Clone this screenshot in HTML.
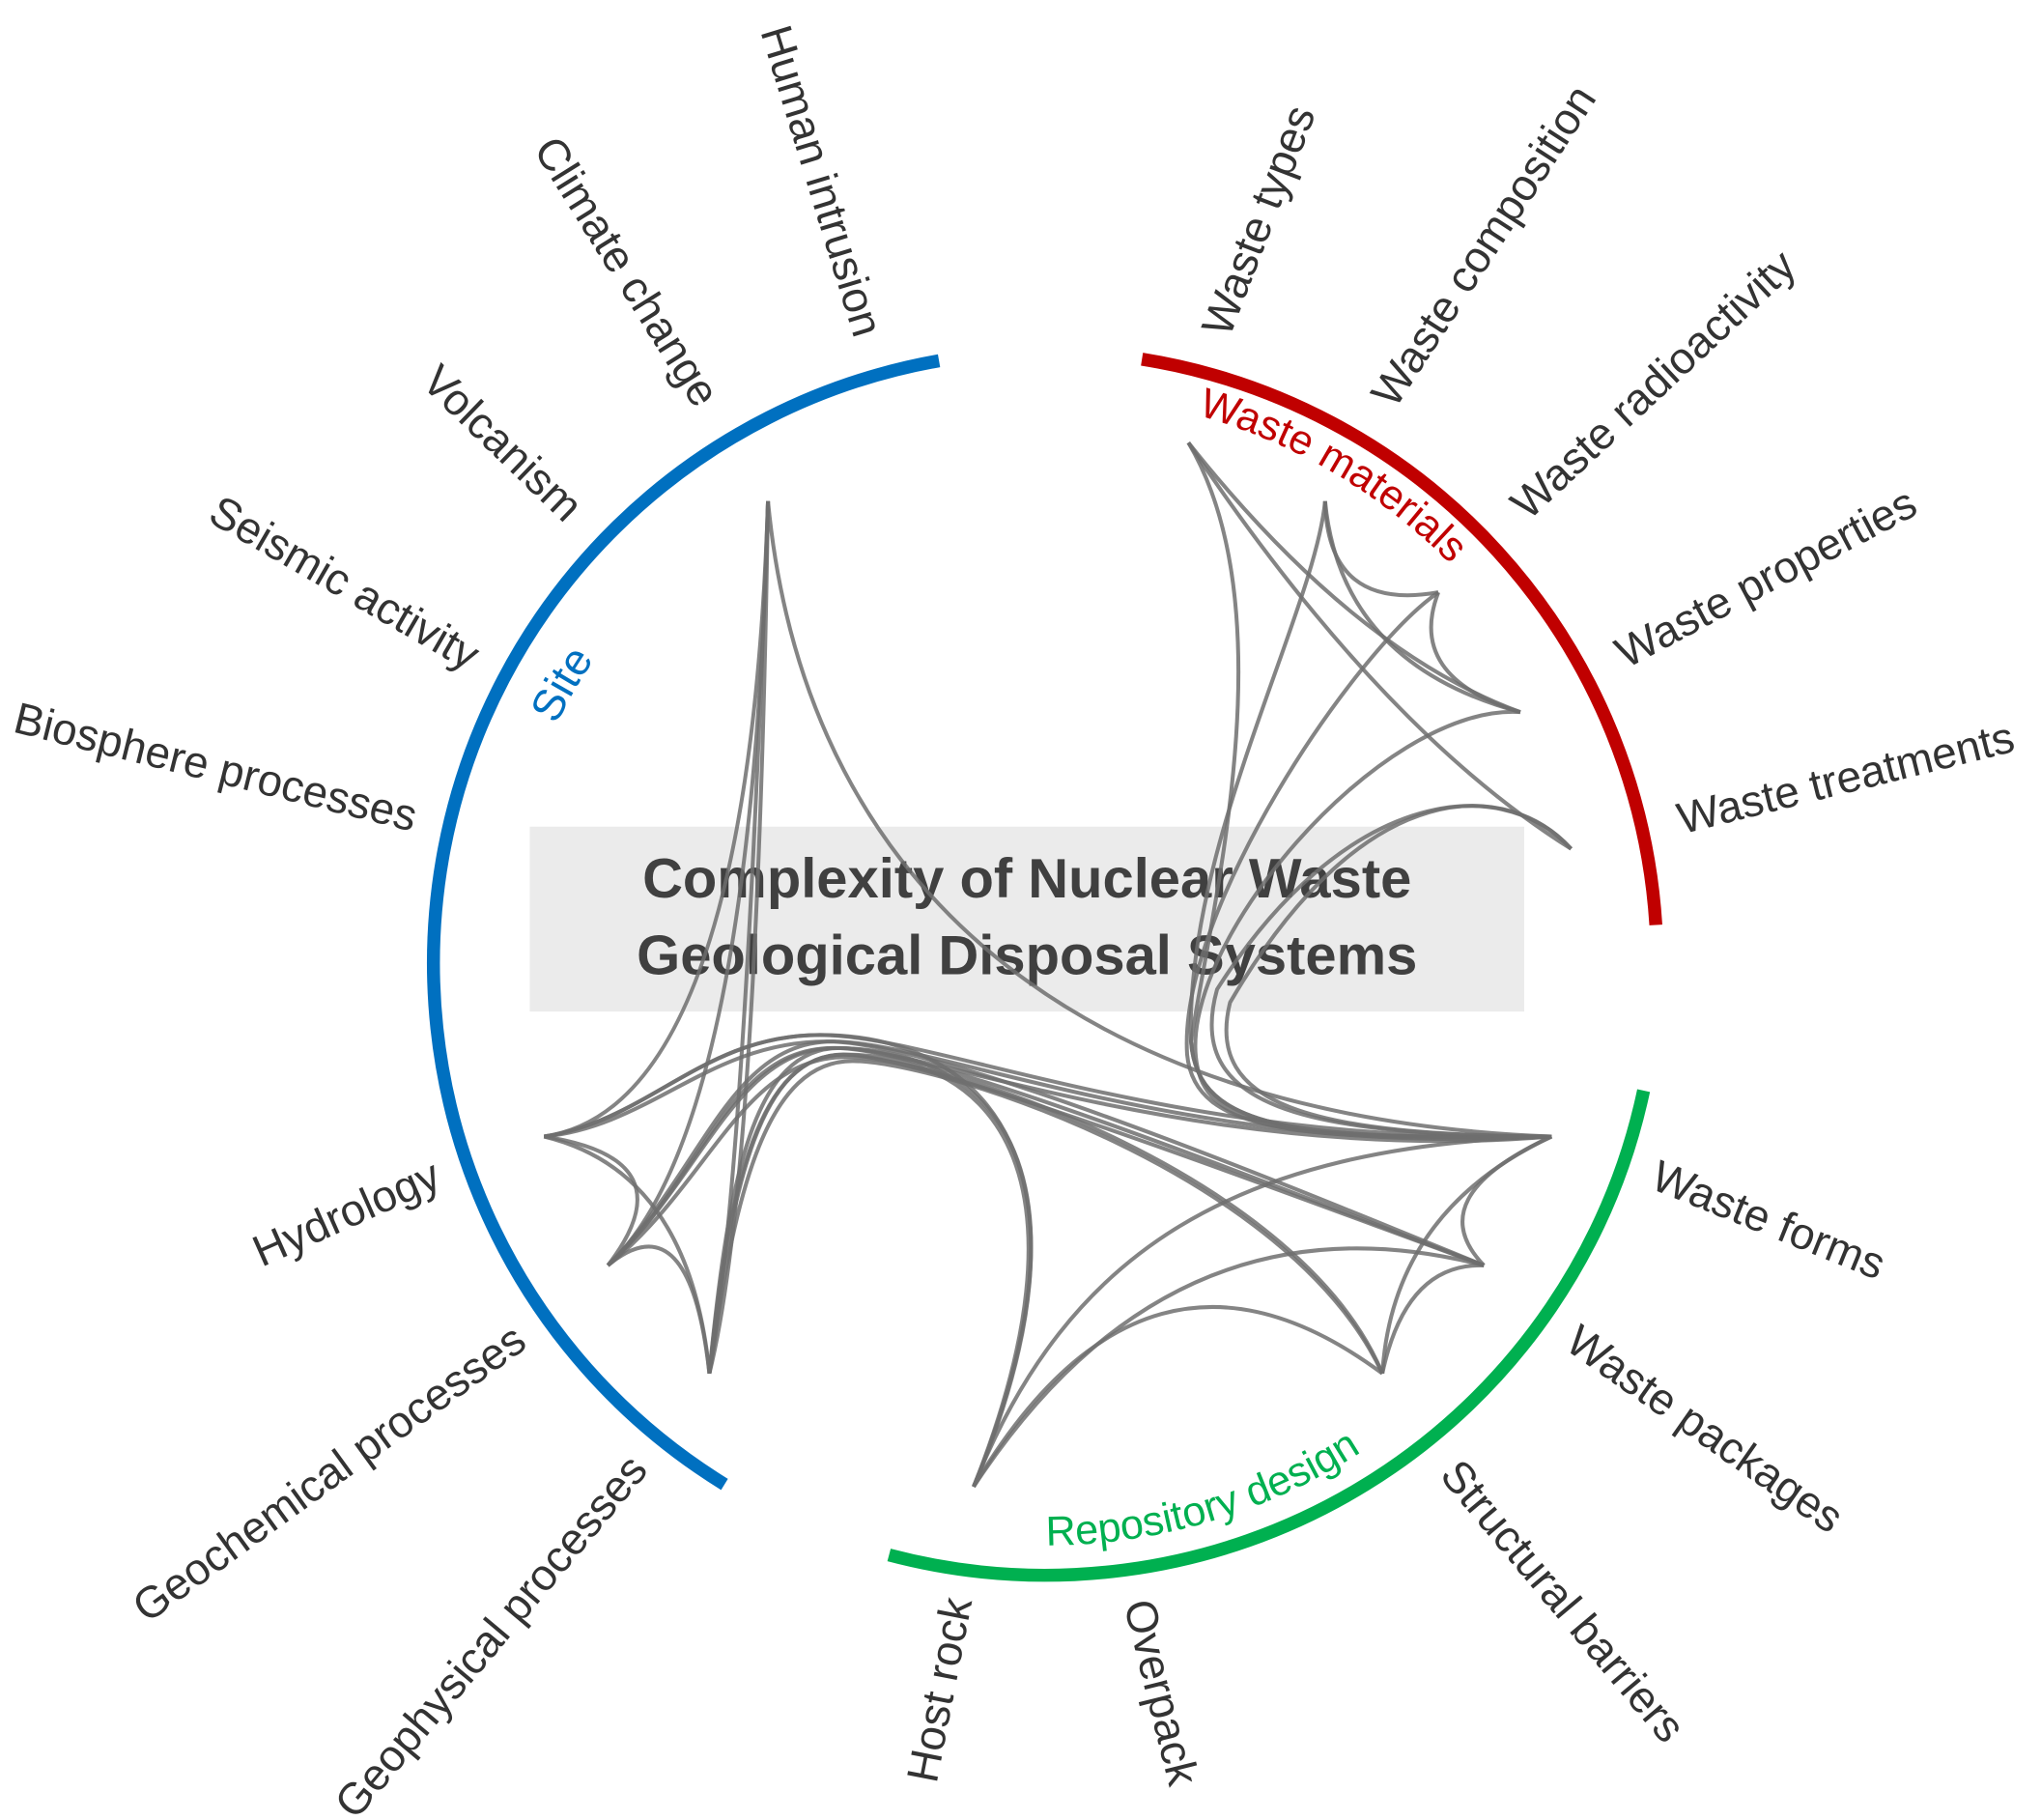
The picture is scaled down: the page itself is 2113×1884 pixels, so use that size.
<!DOCTYPE html>
<html><head><meta charset="utf-8"><style>
html,body{margin:0;padding:0;background:#fff;}
svg{display:block;}
.lbl{font-family:"Liberation Sans",sans-serif;font-size:34px;fill:#333;dominant-baseline:middle;}
.c path{fill:none;stroke:#6e6e6e;stroke-width:3;stroke-opacity:.85;}
</style></head><body>
<svg width="2113" height="1884" viewBox="0 0 1568 1398" preserveAspectRatio="none" xmlns="http://www.w3.org/2000/svg">
<defs>
<path id="pSite" d="M391.4,667.4 A418,418 0 0 1 534.3,419.8"/>
<path id="pWM" d="M803,303 A437,437 0 0 1 1185.2,528.1"/>
<path id="pRD" d="M698.7,1174.7 A447,447 0 0 0 1127.3,1047.7"/>
</defs>
<rect x="407" y="635" width="764" height="142" fill="#ebebeb"/>
<text x="789" y="678" text-anchor="middle" dominant-baseline="middle" font-family="Liberation Sans,sans-serif" font-weight="bold" font-size="43" fill="#404040">Complexity of Nuclear Waste</text>
<text x="789" y="737" text-anchor="middle" dominant-baseline="middle" font-family="Liberation Sans,sans-serif" font-weight="bold" font-size="43" fill="#404040">Geological Disposal Systems</text>
<g class="c">
<path d="M590,385 Q575,850 418,873"/>
<path d="M590,385 Q578,870 467,972"/>
<path d="M590,385 Q572,900 545,1055"/>
<path d="M590,385 Q582,905 545,1055"/>
<path d="M590,385 C620,700 850,860 1192,873"/>
<path d="M418,873 Q530,890 467,972"/>
<path d="M418,873 Q530,900 545,1055"/>
<path d="M467,972 Q530,920 545,1055"/>
<path d="M418,873 C500,860 540,795 630,795 S900,880 1192,873"/>
<path d="M467,972 C540,900 560,800 640,800 S920,890 1192,873"/>
<path d="M545,1055 C560,900 580,805 645,805 S930,895 1192,873"/>
<path d="M418,873 C500,865 545,800 635,800 S1000,915 1140,972"/>
<path d="M467,972 C540,905 565,805 642,805 S1000,920 1140,972"/>
<path d="M545,1055 C562,905 585,810 648,810 S1010,925 1140,972"/>
<path d="M467,972 C545,910 570,812 650,812 S1000,905 1062,1055"/>
<path d="M545,1055 C565,910 590,815 655,815 S990,900 1062,1055"/>
<path d="M418,873 C500,860 540,795 630,795 C760,795 850,900 748,1142"/>
<path d="M467,972 C540,905 560,805 640,805 C770,805 845,905 748,1142"/>
<path d="M545,1055 C560,905 585,810 648,810 C770,810 840,910 748,1142"/>
<path d="M748,1142 Q880,920 1062,1055"/>
<path d="M748,1142 Q900,910 1140,972"/>
<path d="M748,1142 C820,960 950,880 1192,873"/>
<path d="M1192,873 Q1090,920 1140,972"/>
<path d="M1192,873 Q1070,930 1062,1055"/>
<path d="M1140,972 Q1080,970 1062,1055"/>
<path d="M913,340 Q1040,500 1168,547"/>
<path d="M913,340 Q1060,560 1207,652"/>
<path d="M1018,385 Q1020,470 1105,455"/>
<path d="M1018,385 Q1030,510 1168,547"/>
<path d="M1105,455 Q1080,520 1168,547"/>
<path d="M913,340 C990,470 930,700 915,800 C920,870 1000,875 1192,873"/>
<path d="M1018,385 C1010,470 910,650 915,800 C920,870 1000,875 1192,873"/>
<path d="M1105,455 C1040,500 905,700 912,810 C918,872 1000,875 1192,873"/>
<path d="M1168,547 C1060,540 900,730 920,820 C930,872 1010,876 1192,873"/>
<path d="M1207,652 C1150,590 1030,610 935,760 C910,850 1000,872 1192,873"/>
<path d="M1207,652 C1160,600 1050,590 945,770 C925,850 1010,872 1192,873"/>
</g>
<path d="M556.6,1140.2 A470,470 0 0 1 721.4,277.1" fill="none" stroke="#0070c0" stroke-width="10"/>
<path d="M877.3,275.9 A470,470 0 0 1 1272.1,710.5" fill="none" stroke="#c00000" stroke-width="10"/>
<path d="M1262.7,837.7 A470,470 0 0 1 683,1194.4" fill="none" stroke="#00b050" stroke-width="10"/>
<text font-family="Liberation Sans,sans-serif" font-size="34" fill="#0070c0"><textPath href="#pSite" startOffset="50%" text-anchor="middle">Site</textPath></text>
<text font-family="Liberation Sans,sans-serif" font-size="32" fill="#c00000"><textPath href="#pWM" startOffset="50%" text-anchor="middle">Waste materials</textPath></text>
<text font-family="Liberation Sans,sans-serif" font-size="32" fill="#00b050"><textPath href="#pRD" startOffset="50%" text-anchor="middle">Repository design</textPath></text>
<g class="lbl">
<text text-anchor="end" transform="translate(665,258) rotate(73)">Human intrusion</text>
<text text-anchor="end" transform="translate(542,310) rotate(58)">Climate change</text>
<text text-anchor="end" transform="translate(440,396) rotate(44)">Volcanism</text>
<text text-anchor="end" transform="translate(364,508) rotate(30)">Seismic activity</text>
<text text-anchor="end" transform="translate(319,630) rotate(14)">Biosphere processes</text>
<text text-anchor="end" transform="translate(337,903) rotate(-24)">Hydrology</text>
<text text-anchor="end" transform="translate(401,1027) rotate(-36)">Geochemical processes</text>
<text text-anchor="end" transform="translate(492,1124) rotate(-50)">Geophysical processes</text>
<text text-anchor="end" transform="translate(738,1228) rotate(-79)">Host rock</text>
<text transform="translate(936,257) rotate(-69)">Waste types</text>
<text transform="translate(1064,310) rotate(-57)">Waste composition</text>
<text transform="translate(1168,394) rotate(-43)">Waste radioactivity</text>
<text transform="translate(1245,506) rotate(-28)">Waste properties</text>
<text transform="translate(1290,632) rotate(-14)">Waste treatments</text>
<text transform="translate(1270,904) rotate(22)">Waste forms</text>
<text transform="translate(1206,1028) rotate(35)">Waste packages</text>
<text transform="translate(1112,1128) rotate(50)">Structural barriers</text>
<text transform="translate(872,1230) rotate(76)">Overpack</text>
</g>
</svg>
</body></html>
